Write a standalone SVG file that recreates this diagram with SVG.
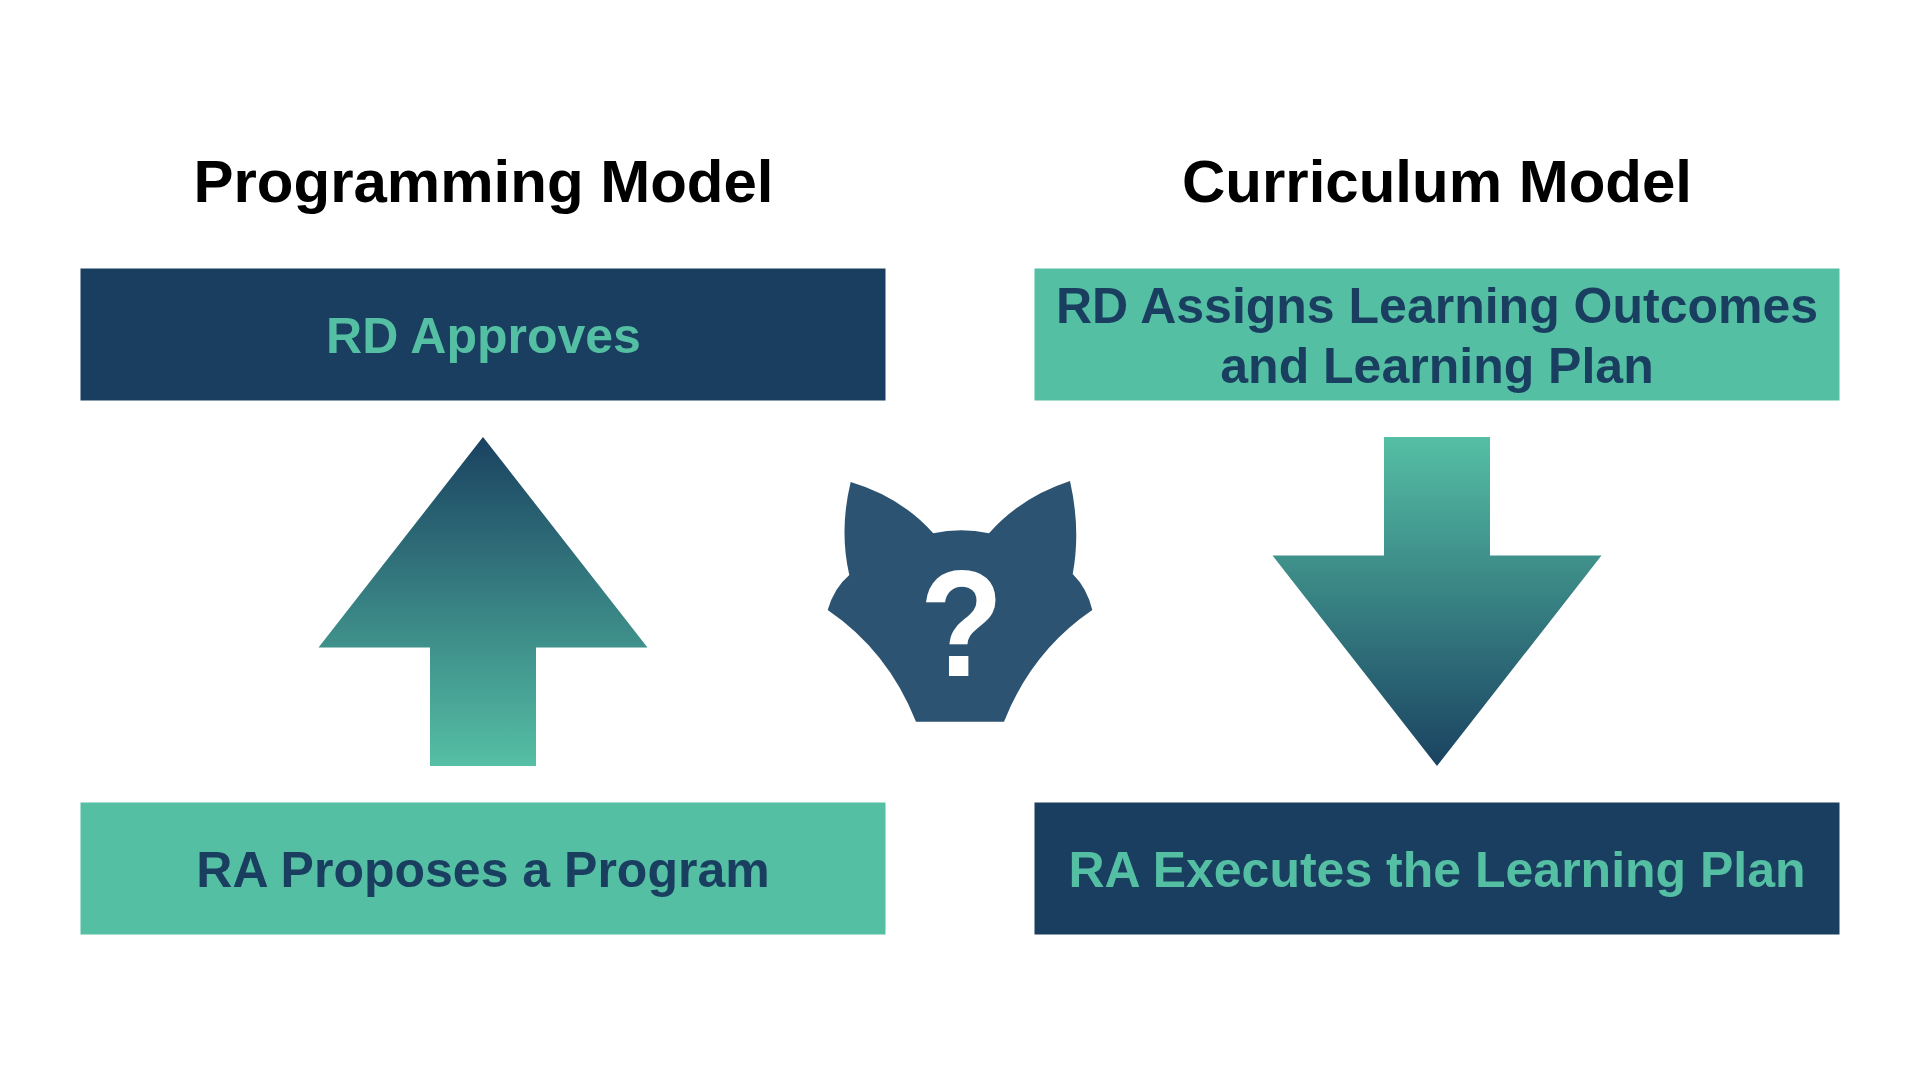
<svg xmlns="http://www.w3.org/2000/svg" width="1920" height="1080" viewBox="0 0 1920 1080">
<style>
text{font-family:"Liberation Sans",Arial,sans-serif;font-weight:700;text-anchor:middle}
.h{font-size:60px;fill:#000}
.t{font-size:50px}
.d{fill:#193e5f}.g{fill:#55bfa4}
</style>
<defs>
<linearGradient id="up" x1="0" y1="0" x2="0" y2="1"><stop offset="0" stop-color="#1a4261"/><stop offset="1" stop-color="#55bfa4"/></linearGradient>
<linearGradient id="down" x1="0" y1="0" x2="0" y2="1"><stop offset="0" stop-color="#55bfa4"/><stop offset="1" stop-color="#1a4261"/></linearGradient>
</defs>
<rect width="1920" height="1080" fill="#fff"/>
<text class="h" x="483.500" y="202">Programming Model</text>
<text class="h" x="1437" y="202">Curriculum Model</text>
<g id="rd-approves"><rect class="d" x="80.500" y="268.500" width="805" height="132"/><text class="t g" x="483.500" y="353">RD Approves</text></g>
<g id="ra-proposes"><rect class="g" x="80.500" y="802.500" width="805" height="132"/><text class="t d" x="483" y="887">RA Proposes a Program</text></g>
<g id="rd-assigns"><rect class="g" x="1034.500" y="268.500" width="805" height="132"/><text class="t d" x="1437" y="323">RD Assigns Learning Outcomes</text><text class="t d" x="1437" y="383">and Learning Plan</text></g>
<g id="ra-executes"><rect class="d" x="1034.500" y="802.500" width="805" height="132"/><text class="t g" x="1437" y="887">RA Executes the Learning Plan</text></g>
<g id="connectors">
<path fill="url(#up)" d="M483 437L647.500 647.500H536V766H430V647.500H318.500Z"/>
<path fill="url(#down)" d="M1384 437H1490V555.500H1601.500L1437 766L1272.500 555.500H1384Z"/>
</g>
<g id="fox">
<path fill="#2c5371" d="M850.700 482Q901 497 933.300 533.300Q961 527 989 533.300Q1021 497 1070 481Q1081 530 1072.700 574Q1087 588 1092.300 610Q1032 651 1004 721.700L916 721.700Q888 651 827.700 610Q834 588 849.300 575Q839 530 850.700 482Z"/>
<text transform="translate(961.500 676) scale(.9 1)" font-size="152" fill="#fff">?</text>
</g>
</svg>
